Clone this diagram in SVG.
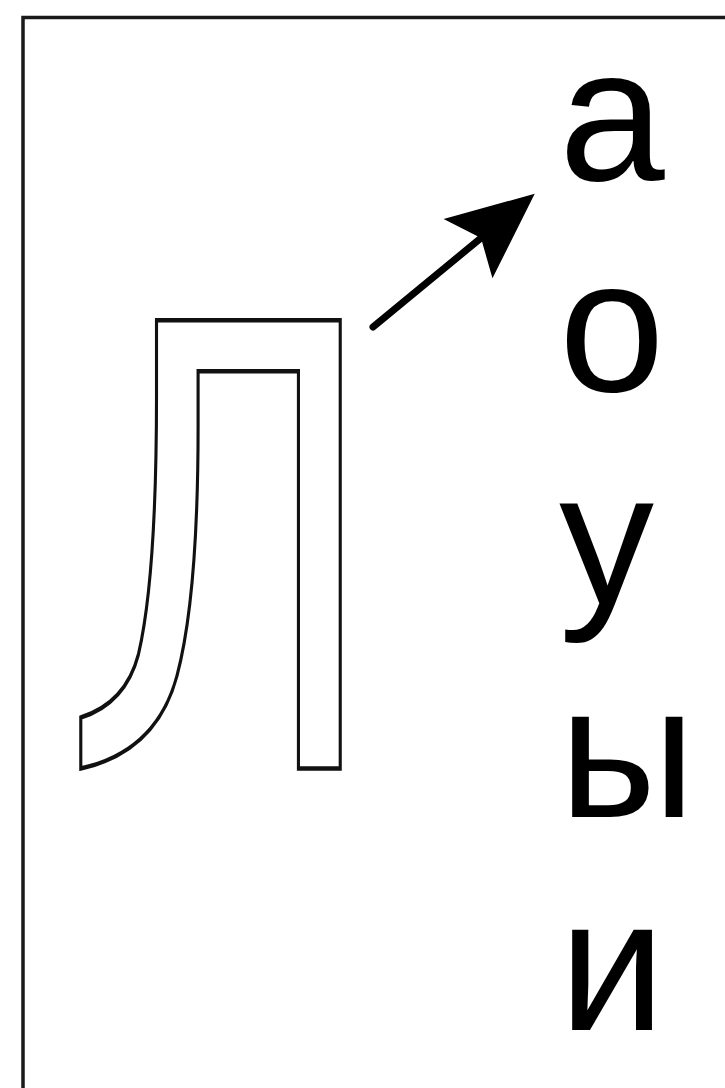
<svg xmlns="http://www.w3.org/2000/svg" width="725" height="1088" viewBox="0 0 725 1088">
  <style>
    .vowel { font-family: "Liberation Sans", Arial, sans-serif; font-size: 190px; fill: #000; }
    .outline { font-family: "DejaVu Sans", sans-serif; font-size: 615px; fill: #fff; stroke: #111; stroke-width: 4.5; stroke-linejoin: miter; }
    .conn { stroke: #000; stroke-width: 7; stroke-linecap: round; fill: none; }
  </style>
  <defs>
    <marker id="head" markerUnits="userSpaceOnUse" orient="auto" markerWidth="120" markerHeight="120" refX="0" refY="0" viewBox="-20 -40 100 80" overflow="visible">
      <path d="M58,0 L-14,-32 L0,0 L-14,32 Z" fill="#000"/>
    </marker>
  </defs>
  <rect x="0" y="0" width="725" height="1088" fill="#fff"/>
  <rect id="frame" x="23" y="17.5" width="800" height="1200" fill="none" stroke="#1a1a1a" stroke-width="3.5"/>
  <g id="node-L">
    <text class="outline" transform="translate(63.4,768.5) scale(0.689,1)">Л</text>
  </g>
  <g id="node-a"><text class="vowel" x="559" y="180">а</text></g>
  <g id="node-o"><text class="vowel" x="559" y="391">о</text></g>
  <g id="node-u"><text class="vowel" x="559" y="604">у</text></g>
  <g id="node-y"><text class="vowel" x="559" y="817">ы</text></g>
  <g id="node-i"><text class="vowel" x="559" y="1030">и</text></g>
  <g id="connectors">
    <path class="conn" d="M373,327 L481,238" marker-end="url(#head)"/>
  </g>
</svg>
